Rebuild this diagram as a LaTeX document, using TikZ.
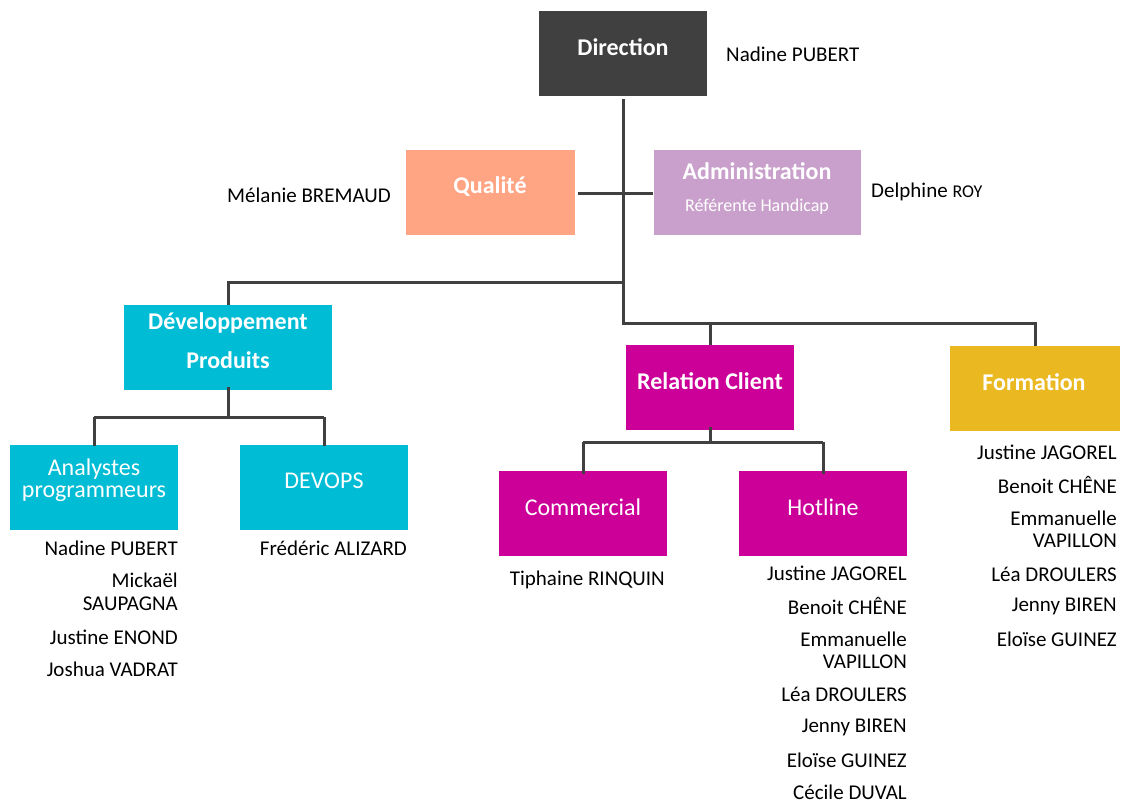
\documentclass[tikz,border=0pt]{standalone}
\usepackage{fontspec}
\setmainfont{Carlito}
\definecolor{cdir}{HTML}{404040}
\definecolor{cqual}{HTML}{FFA584}
\definecolor{cadm}{HTML}{C9A0CB}
\definecolor{cdev}{HTML}{00BCD4}
\definecolor{crel}{HTML}{CC0099}
\definecolor{cform}{HTML}{EAB820}
\definecolor{cline}{HTML}{404040}
\begin{document}
\begin{tikzpicture}[x=1pt,y=-1pt,
  box/.style={fill=#1,draw=none,inner sep=0,outer sep=0,minimum width=168pt,minimum height=85pt,anchor=north west},
  ttl/.style={text=white,font=\fontsize{24}{26}\selectfont\bfseries,inner sep=0},
  sub/.style={text=white,font=\fontsize{24}{25}\selectfont,inner sep=0,align=center},
  who/.style={text=black,font=\fontsize{21}{23}\selectfont,inner sep=0,align=right},
  conn/.style={draw=cline,line width=3pt}]
\useasboundingbox (0,0) rectangle (1121,803);
% boxes
\node[box=cdir] (dir) at (539,11) {};
\node[box=cqual,minimum width=169pt] (qual) at (406,150) {};
\node[box=cadm,minimum width=207pt] (adm) at (654,150) {};
\node[box=cdev,minimum width=208pt] (dev) at (124,305) {};
\node[box=crel] (rel) at (626,345) {};
\node[box=cform,minimum width=170pt] (form) at (950,346) {};
\node[box=cdev] (ana) at (10,445) {};
\node[box=cdev] (devops) at (240,445) {};
\node[box=crel] (com) at (499,471) {};
\node[box=crel] (hot) at (739,471) {};
% box texts
\node[ttl] (tdir) at (623,47) {Direction};
\node[ttl] (tqual) at (490,187) {Qualité};
\node[ttl] (tadm) at (757,171) {Administration};
\node[text=white,font=\fontsize{18}{20}\selectfont,inner sep=0] (tadm2) at (757,207) {Référente Handicap};
\node[ttl] (tdev1) at (228,323) {Développement};
\node[ttl] (tdev2) at (228,360) {Produits};
\node[ttl] (trel) at (710,381) {Relation Client};
\node[ttl] (tform) at (1034,382) {Formation};
\node[sub] (tana1) at (94,469) {Analystes};
\node[sub] (tana2) at (94,494) {programmeurs};
\node[sub] (tdevops) at (324,481) {DEVOPS};
\node[sub] (tcom) at (583,507) {Commercial};
\node[sub] (thot) at (823,507) {Hotline};
% people
\node[who,anchor=west] (pdir) at (726,54) {Nadine PUBERT};
\node[who,anchor=east] (pqual) at (391,195) {Mélanie BREMAUD};
\node[who,anchor=west] (padm) at (871,192) {Delphine {\fontsize{18}{20}\selectfont ROY}};
\node[who,anchor=east] (a1) at (178,548) {Nadine PUBERT};
\node[who,anchor=east] (a2) at (178,580) {Mickaël};
\node[who,anchor=east] (a3) at (178,604) {SAUPAGNA};
\node[who,anchor=east] (a4) at (178,637) {Justine ENOND};
\node[who,anchor=east] (a5) at (178,669) {Joshua VADRAT};
\node[who,anchor=east] (d1) at (407,548) {Frédéric ALIZARD};
\node[who,anchor=east] (c1) at (665,580) {Tiphaine RINQUIN};
\node[who,anchor=east] (h1) at (907,573) {Justine JAGOREL};
\node[who,anchor=east] (h2) at (907,606) {Benoit CHÊNE};
\node[who,anchor=east] (h3) at (907,639) {Emmanuelle};
\node[who,anchor=east] (h4) at (907,662) {VAPILLON};
\node[who,anchor=east] (h5) at (907,694) {Léa DROULERS};
\node[who,anchor=east] (h6) at (907,727) {Jenny BIREN};
\node[who,anchor=east] (h7) at (907,760) {Eloïse GUINEZ};
\node[who,anchor=east] (h8) at (907,792) {Cécile DUVAL};
\node[who,anchor=east] (f1) at (1117,452) {Justine JAGOREL};
\node[who,anchor=east] (f2) at (1117,485) {Benoit CHÊNE};
\node[who,anchor=east] (f3) at (1117,518) {Emmanuelle};
\node[who,anchor=east] (f4) at (1117,541) {VAPILLON};
\node[who,anchor=east] (f5) at (1117,574) {Léa DROULERS};
\node[who,anchor=east] (f6) at (1117,606) {Jenny BIREN};
\node[who,anchor=east] (f7) at (1117,639) {Eloïse GUINEZ};
% connectors
\coordinate (j1) at (623,99);
\coordinate (j2) at (623,323);
\coordinate (jq) at (623,193);
\draw[conn] (j1) -- (j2) -- (1035,323) -- (form.north -| 1035,0);
\draw[conn] (710,323) -- (rel.north);
\draw[conn] (623,282) -| (dev.north);
\draw[conn] ([xshift=3pt]qual.east |- jq) -- ([xshift=-1pt]adm.west |- jq);
\draw[conn] ([yshift=3pt]dev.south) -- ++(0,30) coordinate (jd);
\draw[conn] (jd -| ana.north) -- (jd -| devops.north);
\draw[conn] (jd -| ana.north) -- ([yshift=-1pt]ana.north);
\draw[conn] (jd -| devops.north) -- ([yshift=-1pt]devops.north);
\draw[conn] ([yshift=3pt]rel.south) -- ++(0,15) coordinate (jr);
\draw[conn] (jr -| com.north) -- (jr -| hot.north);
\draw[conn] (jr -| com.north) -- ([yshift=-3pt]com.north);
\draw[conn] (jr -| hot.north) -- ([yshift=-3pt]hot.north);
\end{tikzpicture}
\end{document}
